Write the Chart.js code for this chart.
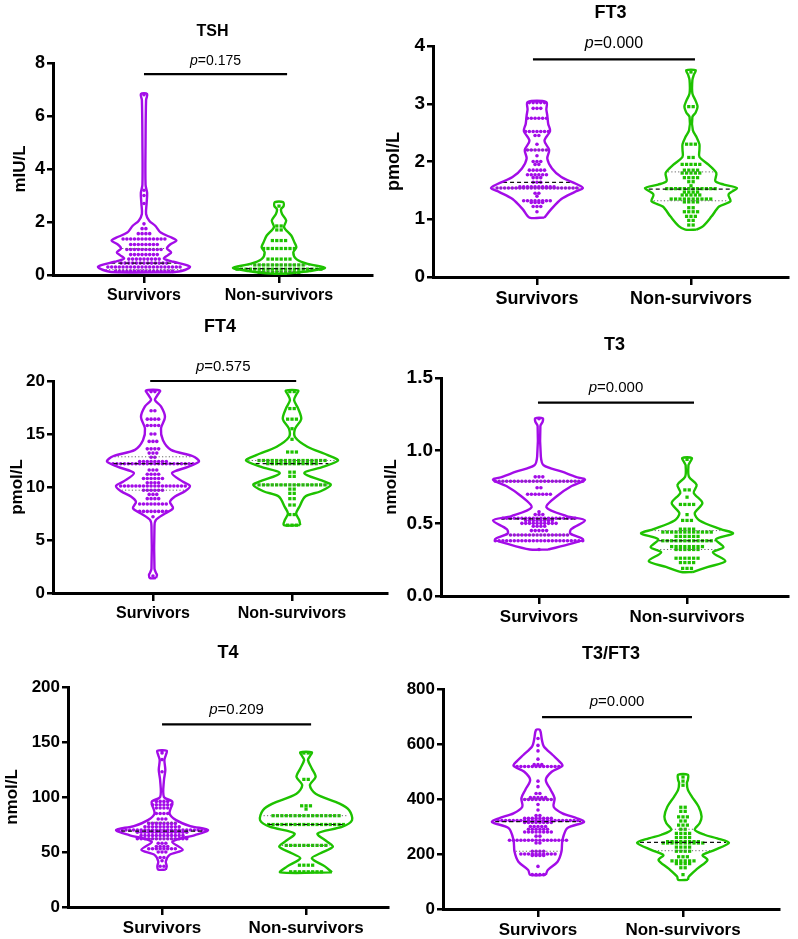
<!DOCTYPE html>
<html>
<head>
<meta charset="utf-8">
<script src="https://cdn.jsdelivr.net/npm/chart.js@4.4.1/dist/chart.umd.min.js"></script>
<style>
body { margin: 0; background: #fff; }
#wrap { position: relative; width: 798px; height: 939px; overflow: hidden; }
canvas { position: absolute; }
</style>
</head>
<body>
<div id="wrap">
<canvas id="c0"></canvas><canvas id="c1"></canvas><canvas id="c2"></canvas>
<canvas id="c3"></canvas><canvas id="c4"></canvas><canvas id="c5"></canvas>
</div>
<script>
const categories = ['Survivors', 'Non-survivors'];
const panelTitles = ['TSH', 'FT3', 'FT4', 'T3', 'T4', 'T3/FT3'];
const yTitles = ['mIU/L', 'pmol/L', 'pmol/L', 'nmol/L', 'nmol/L', ''];
const pValues = ['0.175', '0.000', '0.575', '0.000', '0.209', '0.000'];
const yMax = [8, 4, 20, 1.5, 200, 800];
const yStep = [2, 1, 5, 0.5, 50, 200];
const bracketY = [7.58, 3.77, 20, 1.33, 166, 698];

// dots: [value, how many at that value]; shapes: [value, violin width]; quartiles: [q1, median, q3]
const tshSurvDots = [[6.8,1],[3.2,1],[3.0,1],[2.7,1],[1.93,1],[1.75,2],[1.56,4],[1.36,12],[1.15,8],[0.96,10],[0.77,8],[0.6,9],[0.45,13],[0.3,20],[0.15,16]];
const tshNonDots = [[2.6,1],[1.85,2],[1.7,2],[1.3,4],[1.0,8],[0.6,6],[0.38,12],[0.22,20],[0.1,10]];
const tshSurvShape = [[6.83,3],[6.6,2],[5.0,1.5],[3.4,1.5],[3.1,3],[2.7,2.5],[2.3,2],[2.05,5],[1.85,11],[1.6,16],[1.4,27],[1.3,31],[1.15,25],[1.0,22],[0.85,26],[0.75,23],[0.62,19],[0.5,28],[0.38,40],[0.3,44],[0.15,36],[0.1,26]];
const tshNonShape = [[2.75,4],[2.6,4.5],[2.48,2],[2.3,3],[2.06,7],[1.8,5],[1.49,12],[1.24,15],[1.05,17],[0.85,14],[0.6,17],[0.42,28],[0.27,45],[0.15,30],[0.05,8]];
const tshQuart = [[0.2,0.45,1.0],[0.13,0.24,0.38]];

const ft3SurvDots = [[3.02,5],[2.92,3],[2.75,6],[2.52,7],[2.45,2],[2.3,1],[2.2,6],[2.1,1],[2.0,3],[1.95,2],[1.85,5],[1.77,6],[1.72,3],[1.64,3],[1.56,10],[1.54,22],[1.45,2],[1.4,1],[1.32,8],[1.29,4],[1.22,3],[1.13,1]];
const ft3NonDots = [[3.55,1],[2.95,2],[2.3,3],[2.07,2],[1.95,5],[1.85,4],[1.8,5],[1.72,4],[1.65,2],[1.58,1],[1.53,12],[1.47,4],[1.42,5],[1.35,10],[1.3,4],[1.2,2],[1.13,4],[1.05,3],[0.98,2],[0.9,2]];
const ft3SurvShape = [[3.03,10],[2.9,10],[2.8,11],[2.65,12],[2.53,14],[2.36,8],[2.2,13],[2.05,11],[1.88,16],[1.73,26],[1.61,42],[1.54,49],[1.47,40],[1.35,26],[1.17,15],[1.03,8]];
const ft3NonShape = [[3.58,5],[3.5,3],[3.41,1.5],[3.18,1.5],[3.05,5],[2.95,7],[2.85,5],[2.77,1.5],[2.54,2],[2.42,6],[2.3,9],[2.2,9],[2.08,9],[1.94,19],[1.8,27],[1.66,26],[1.6,35],[1.54,49],[1.43,40],[1.31,42],[1.22,30],[1.05,22],[0.88,13],[0.82,6]];
const ft3Quart = [[1.54,1.64,2.2],[1.32,1.52,1.82]];

const ft4SurvDots = [[19,2],[17.2,2],[16.4,4],[15.8,4],[15,2],[14.3,3],[13.6,4],[13.2,3],[12.8,2],[12.4,8],[12.2,22],[11.6,3],[11.2,4],[10.8,6],[10.4,4],[10.1,18],[9.7,6],[9.3,3],[8.9,4],[8.4,8],[7.7,8],[7.2,1],[1.6,1]];
const ft4NonDots = [[19,2],[17.4,2],[16.4,3],[15.5,1],[14.5,1],[13.3,3],[12.5,16],[12.2,12],[11.4,2],[11,2],[10.2,16],[9.8,2],[9.4,2],[8.9,2],[8.3,2],[7.4,2],[6.4,3]];
const ft4SurvShape = [[19.1,7],[18.6,4],[18.2,2],[17.6,8],[16.6,12],[15.5,8],[14.4,10],[13.5,18],[12.9,40],[12.4,46],[11.9,35],[11.3,19],[10.5,30],[10.1,37],[9.6,32],[9.1,22],[8.6,17],[8.0,20],[7.5,12],[6.9,3],[6.3,1.5],[2.3,1.5],[1.9,3],[1.7,4],[1.4,3]];
const ft4NonShape = [[19.1,6],[18.7,4],[18.2,2],[17.4,6],[16.4,9],[15.5,3],[14.7,3],[13.8,15],[13.0,35],[12.5,45],[11.9,30],[11.3,12],[10.5,32],[10.2,38],[9.6,28],[9.1,13],[8.1,7],[7.5,4],[6.9,7],[6.4,8]];
const ft4Quart = [[9.7,12.2,12.85],[10.2,12.2,12.5]];

const t3SurvDots = [[1.22,1],[0.82,3],[0.79,24],[0.745,2],[0.7,7],[0.58,1],[0.56,3],[0.535,20],[0.52,8],[0.5,10],[0.48,4],[0.45,5],[0.42,16],[0.38,24],[0.32,1]];
const t3NonDots = [[0.94,1],[0.73,2],[0.68,1],[0.63,4],[0.56,1],[0.52,3],[0.46,4],[0.44,12],[0.41,6],[0.38,12],[0.34,8],[0.32,6],[0.26,6],[0.23,4],[0.19,3]];
const t3SurvShape = [[1.223,4],[1.2,4],[1.17,1.5],[0.96,2],[0.9,5],[0.855,25],[0.82,40],[0.8,50],[0.755,35],[0.69,20],[0.61,8],[0.55,30],[0.52,50],[0.46,35],[0.43,34],[0.39,48],[0.36,35],[0.32,10]];
const t3NonShape = [[0.95,5],[0.92,3],[0.9,1.5],[0.82,2],[0.765,10],[0.71,7],[0.64,16],[0.57,8],[0.52,13],[0.46,35],[0.43,48],[0.39,30],[0.335,38],[0.3,27],[0.24,40],[0.2,22],[0.165,6]];
const t3Quart = [[0.42,0.53,0.79],[0.32,0.38,0.45]];

const t4SurvDots = [[142,1],[140,1],[134,1],[123,1],[96,4],[93,6],[90,4],[85,4],[80,3],[76,8],[73,10],[70,24],[68,14],[65,12],[62,14],[58,3],[55,4],[53,8],[50,3],[45,2],[42,1],[37,2]];
const t4NonDots = [[140,2],[116,2],[92,3],[89,1],[83,16],[75,18],[56,10],[38,4],[32,8]];
const t4SurvShape = [[142,5],[138,4],[133.6,2.5],[124.5,3.5],[115,2],[100,2],[95.6,11],[85,8],[79,15],[73.6,30],[70,49],[65.4,35],[59.4,11],[52,22],[47.4,8],[41.3,4],[37,5],[34,4]];
const t4NonShape = [[140.6,6],[137,4],[133.6,2],[126,6],[118.3,10],[110.7,4],[103,10],[94,35],[88,45],[79,48],[73,38],[66.8,12],[59.4,22],[54.8,28],[48.8,15],[44.3,6],[36.7,20],[31.5,27]];
const t4Quart = [[62,69,77],[56,75,83]];

const ratioSurvDots = [[620,1],[595,1],[575,1],[545,1],[525,3],[518,12],[465,1],[445,1],[420,2],[405,5],[398,8],[380,1],[360,1],[340,2],[330,8],[322,22],[315,8],[300,5],[290,6],[280,8],[265,2],[250,16],[240,2],[210,4],[200,10],[195,4],[155,1],[125,4]];
const ratioNonDots = [[480,1],[465,1],[450,1],[370,2],[355,2],[335,3],[320,2],[305,3],[290,2],[275,4],[260,4],[245,8],[240,10],[225,4],[210,4],[190,3],[175,6],[165,4],[150,2],[125,1]];
const ratioSurvShape = [[651,2],[615,4],[591,6],[560,15],[536,22],[521,25],[499,14],[469,8],[433,13],[403,17],[372,16],[348,25],[330,40],[316,47],[294,30],[251,25],[209,24],[172,20],[142,10],[124,8]];
const ratioNonShape = [[488,5],[470,5],[458,4],[433,5],[409,9],[372,16],[336,19],[312,17],[288,12],[270,22],[257,35],[241,47],[214,32],[196,20],[178,25],[148,15],[118,6],[106,5]];
const ratioQuart = [[210,318,400],[212,242,290]];

const panelGroups = [
  [{dots: tshSurvDots, shape: tshSurvShape, quart: tshQuart[0]}, {dots: tshNonDots, shape: tshNonShape, quart: tshQuart[1]}],
  [{dots: ft3SurvDots, shape: ft3SurvShape, quart: ft3Quart[0]}, {dots: ft3NonDots, shape: ft3NonShape, quart: ft3Quart[1]}],
  [{dots: ft4SurvDots, shape: ft4SurvShape, quart: ft4Quart[0]}, {dots: ft4NonDots, shape: ft4NonShape, quart: ft4Quart[1]}],
  [{dots: t3SurvDots, shape: t3SurvShape, quart: t3Quart[0]}, {dots: t3NonDots, shape: t3NonShape, quart: t3Quart[1]}],
  [{dots: t4SurvDots, shape: t4SurvShape, quart: t4Quart[0]}, {dots: t4NonDots, shape: t4NonShape, quart: t4Quart[1]}],
  [{dots: ratioSurvDots, shape: ratioSurvShape, quart: ratioQuart[0]}, {dots: ratioNonDots, shape: ratioNonShape, quart: ratioQuart[1]}]
];

const colors = ['#a30ce8', '#1ec200'];
const FONT = '"Liberation Sans", Arial, sans-serif';

// where each panel sits on the page
const layout = [
  {left: 0, top: 0, width: 395, height: 310, yW: 53, padTop: 63, padRight: 23, xH: 35, xMin: -0.674, xMax: 1.689, bx: [0, 1.06], titleGap: 31, pGap: 13, fTitle: 16, fTick: 18, fCat: 16, fP: 14, fY: 17, yPad: 10},
  {left: 375, top: 0, width: 423, height: 312, yW: 58, padTop: 46, padRight: 10, xH: 35, xMin: -0.675, xMax: 1.63, bx: [-0.026, 1.026], titleGap: 33, pGap: 16, fTitle: 18, fTick: 19, fCat: 18, fP: 16, fY: 18, yPad: 8},
  {left: 0, top: 310, width: 395, height: 320, yW: 53, padTop: 71, padRight: 8, xH: 37, xMin: -0.719, xMax: 1.683, bx: [-0.02, 1.03], titleGap: 54, pGap: 14, fTitle: 18, fTick: 17, fCat: 16, fP: 15, fY: 17, yPad: 7},
  {left: 375, top: 312, width: 423, height: 318, yW: 66, padTop: 66, padRight: 10, xH: 34, xMin: -0.662, xMax: 1.682, bx: [-0.007, 1.047], titleGap: 33, pGap: 15, fTitle: 18, fTick: 19, fCat: 17, fP: 15, fY: 17, yPad: 6},
  {left: 0, top: 630, width: 395, height: 309, yW: 68, padTop: 57, padRight: 7, xH: 32, xMin: -0.653, xMax: 1.569, bx: [0, 1.035], titleGap: 34, pGap: 15, fTitle: 18, fTick: 17, fCat: 17, fP: 15, fY: 17, yPad: 2},
  {left: 395, top: 630, width: 403, height: 309, yW: 48, padTop: 59, padRight: 19, xH: 30, xMin: -0.655, xMax: 1.662, bx: [0.028, 1.062], titleGap: 35, pGap: 15, fTitle: 18, fTick: 17, fCat: 17, fP: 15, fY: 17, yPad: 2}
];

const annot = {
  id: 'annot',
  afterDraw(chart, args, o) {
    const {ctx, chartArea, scales} = chart;
    ctx.save();
    ctx.fillStyle = '#000';
    ctx.strokeStyle = '#000';
    ctx.textBaseline = 'middle';
    ctx.textAlign = 'center';
    ctx.font = 'bold ' + o.fTitle + 'px ' + FONT;
    ctx.fillText(o.title, (chartArea.left + chartArea.right) / 2, chartArea.top - o.titleGap);

    const x0 = scales.x.getPixelForValue(o.bx0);
    const x1 = scales.x.getPixelForValue(o.bx1);
    const yb = scales.y.getPixelForValue(o.by);
    ctx.lineWidth = 2.2;
    ctx.beginPath();
    ctx.moveTo(x0, yb);
    ctx.lineTo(x1, yb);
    ctx.stroke();

    ctx.textAlign = 'left';
    const italic = 'italic ' + o.fP + 'px ' + FONT;
    const normal = o.fP + 'px ' + FONT;
    ctx.font = italic;
    const wp = ctx.measureText('p').width;
    ctx.font = normal;
    const rest = '=' + o.p;
    const wr = ctx.measureText(rest).width;
    let sx = (x0 + x1) / 2 - (wp + wr) / 2;
    const ty = yb - o.pGap;
    ctx.font = italic;
    ctx.fillText('p', sx, ty);
    ctx.font = normal;
    ctx.fillText(rest, sx + wp, ty);
    ctx.restore();
  }
};

function buildDatasets(groups, L) {
  const ppu = (L.width - L.yW - L.padRight) / (L.xMax - L.xMin);
  const half = 46 / ppu;
  const ds = [];
  groups.forEach((g, idx) => {
    const color = colors[idx];
    const gap = (idx === 0 ? 3.8 : 4.4) / ppu;
    const maxW = Math.max(...g.shape.map(p => p[1]));
    const widthAt = y => {
      const s = g.shape;
      for (let k = 0; k < s.length - 1; k++) {
        if (y <= s[k][0] && y >= s[k + 1][0]) {
          const t = (s[k][0] - y) / (s[k][0] - s[k + 1][0]);
          return (s[k][1] + t * (s[k + 1][1] - s[k][1])) / maxW * half;
        }
      }
      return 0;
    };
    const right = g.shape.slice().reverse().map(([y, w]) => ({x: idx + w / maxW * half, y: y}));
    const left = g.shape.map(([y, w]) => ({x: idx - w / maxW * half, y: y}));
    ds.push({
      data: right.concat(left, [right[0]]),
      showLine: true, borderColor: color, borderWidth: 2.4, pointRadius: 0,
      tension: 0.3, fill: false, borderJoinStyle: 'round', order: 0
    });
    g.quart.forEach((q, k) => {
      const w = widthAt(q) * 0.95;
      ds.push({
        data: [{x: idx - w, y: q}, {x: idx + w, y: q}],
        showLine: true, borderColor: k === 1 ? '#111' : '#666', borderWidth: k === 1 ? 1.2 : 1,
        borderDash: k === 1 ? [4, 3] : [1.2, 2.2], pointRadius: 0, order: 1
      });
    });
    const pts = [];
    g.dots.forEach(([v, n]) => {
      for (let i = 0; i < n; i++) pts.push({x: idx + (i - (n - 1) / 2) * gap, y: v});
    });
    ds.push({
      data: pts, showLine: false, pointStyle: idx === 0 ? 'circle' : 'rect',
      pointRadius: idx === 0 ? 1.8 : 2.3, backgroundColor: color, borderWidth: 0, order: 2
    });
  });
  return ds;
}

function makeChart(i) {
  const L = layout[i];
  const cv = document.getElementById('c' + i);
  cv.width = L.width;
  cv.height = L.height;
  cv.style.left = L.left + 'px';
  cv.style.top = L.top + 'px';
  new Chart(cv, {
    type: 'scatter',
    data: {datasets: buildDatasets(panelGroups[i], L)},
    options: {
      responsive: false,
      animation: false,
      events: [],
      layout: {padding: {top: L.padTop, right: L.padRight, left: 0, bottom: 0}},
      plugins: {
        legend: {display: false},
        tooltip: {enabled: false},
        annot: {
          title: panelTitles[i], p: pValues[i], by: bracketY[i], bx0: L.bx[0], bx1: L.bx[1],
          titleGap: L.titleGap, pGap: L.pGap, fTitle: L.fTitle, fP: L.fP
        }
      },
      scales: {
        x: {
          type: 'linear', min: L.xMin, max: L.xMax,
          afterFit: s => { s.height = L.xH; },
          afterBuildTicks: s => { s.ticks = categories.map((c, k) => ({value: k})); },
          ticks: {callback: v => categories[v], color: '#000', padding: 3,
                  font: {family: FONT, size: L.fCat, weight: 'bold'}},
          grid: {drawOnChartArea: false, tickLength: 8, color: '#000', lineWidth: 2.5},
          border: {color: '#000', width: 3}
        },
        y: {
          min: 0, max: yMax[i],
          afterFit: s => { s.width = L.yW; },
          ticks: {stepSize: yStep[i], color: '#000', padding: 2,
                  callback: v => yStep[i] < 1 ? v.toFixed(1) : String(v),
                  font: {family: FONT, size: L.fTick, weight: 'bold'}},
          grid: {drawOnChartArea: false, tickLength: 6, color: '#000', lineWidth: 2.5},
          border: {color: '#000', width: 3},
          title: {display: yTitles[i] !== '', text: yTitles[i], color: '#000',
                  padding: {top: L.yPad, bottom: 0},
                  font: {family: FONT, size: L.fY, weight: 'bold'}}
        }
      }
    },
    plugins: [annot]
  });
}

for (let i = 0; i < 6; i++) makeChart(i);
</script>
</body>
</html>
